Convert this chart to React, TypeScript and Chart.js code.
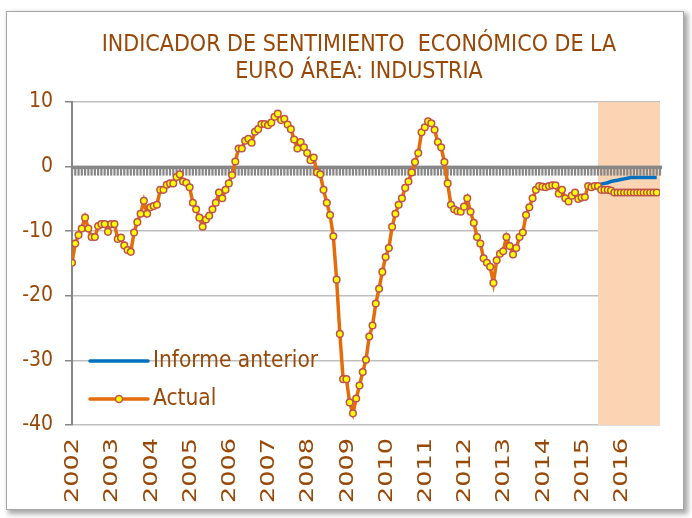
import React, { useEffect, useRef } from 'react';
import { Chart, registerables } from 'chart.js';

Chart.register(...registerables);

// ---- data ----
const titleLines = ['INDICADOR DE SENTIMIENTO  ECONÓMICO DE LA', 'EURO ÁREA: INDUSTRIA'];
const years = ['2002', '2003', '2004', '2005', '2006', '2007', '2008', '2009', '2010', '2011', '2012', '2013', '2014', '2015', '2016'];

// Monthly values, Jan 2002 .. Dec 2016
const actual = [
  // 2002
  -14.9, -11.9, -10.6, -9.6, -7.9, -9.6, -10.9, -10.9, -9.2, -8.9, -8.9, -10.1,
  // 2003
  -8.9, -8.9, -11.2, -11.0, -12.2, -12.9, -13.2, -10.2, -8.6, -7.3, -5.3, -7.3,
  // 2004
  -6.3, -6.1, -5.9, -3.6, -3.6, -2.8, -2.6, -2.6, -1.6, -1.2, -2.3, -2.5,
  // 2005
  -3.2, -5.6, -6.6, -7.9, -9.3, -8.2, -7.6, -6.6, -5.6, -4.0, -4.9, -3.6,
  // 2006
  -2.6, -1.3, 0.8, 2.8, 2.8, 4.0, 4.3, 3.7, 5.4, 5.8, 6.6, 6.6,
  // 2007
  6.4, 6.8, 7.7, 8.2, 7.2, 7.4, 6.5, 5.8, 4.2, 2.8, 3.8, 3.0,
  // 2008
  2.1, 1.0, 1.4, -0.9, -1.2, -3.6, -5.6, -7.5, -10.8, -17.5, -25.9, -32.9,
  // 2009
  -32.9, -36.5, -38.2, -35.9, -33.9, -31.8, -29.9, -26.3, -24.6, -21.2, -18.9, -16.3,
  // 2010
  -14.0, -12.6, -9.3, -7.3, -5.9, -4.9, -3.3, -2.3, -0.9, 0.7, 2.1, 5.3,
  // 2011
  6.1, 7.0, 6.7, 5.7, 3.8, 3.0, 0.7, -2.6, -5.9, -6.6, -6.9, -7.0,
  // 2012
  -6.2, -4.9, -7.0, -8.7, -10.9, -11.9, -14.2, -14.9, -15.5, -18.0, -14.5, -13.5,
  // 2013
  -13.1, -10.9, -12.3, -13.6, -12.6, -10.9, -10.2, -7.5, -6.3, -4.9, -3.6, -3.0,
  // 2014
  -3.1, -3.2, -3.0, -2.9, -2.9, -4.2, -3.6, -4.9, -5.4, -4.5, -4.0, -5.0,
  // 2015
  -4.8, -4.7, -3.0, -3.2, -3.0, -3.0, -3.6, -3.6, -3.6, -3.7, -4.0, -4.0,
  // 2016
  -4.0, -4.0, -4.0, -4.0, -4.0, -4.0, -4.0, -4.0, -4.0, -4.0, -4.0, -4.0,
];

// Previous report, from month index informeAnteriorStart to Dec 2016
const informeAnteriorStart = 161;
const informeAnterior = [-3.0, -2.7, -2.6, -2.5, -2.3, -2.2, -2.1, -2.0, -1.9, -1.8, -1.7, -1.7, -1.7, -1.7, -1.7, -1.7, -1.7, -1.7, -1.7];

// Forecast period shading (month indices)
const forecastStart = 161;
const forecastEnd = 180;

const yMin = -40;
const yMax = 10;
const yStep = 10;

const BROWN = '#984807';
const FONT = "'DejaVu Sans Condensed', 'DejaVu Sans', sans-serif";

export default function App() {
  const ref = useRef<HTMLCanvasElement>(null);

  useEffect(() => {
    const canvas = ref.current;
    if (!canvas) return;

    const actualPts = actual.map((y, i) => ({ x: i, y }));
    const prevPts = informeAnterior.map((y, k) => ({ x: informeAnteriorStart + k, y }));
    const shadePts = [
      { x: forecastStart, y: yMax },
      { x: forecastEnd, y: yMax },
    ];

    const zeroAxis = {
      id: 'zeroAxis',
      beforeDatasetDraw(chart: any, args: any) {
        if (args.index !== 1) return;
        const { ctx, chartArea, scales } = chart;
        const y0 = scales.y.getPixelForValue(0);
        ctx.save();
        ctx.fillStyle = '#878787';
        ctx.fillRect(chartArea.left, y0 - 1, chartArea.right - chartArea.left + 2, 3.5);
        for (let i = 0; i <= forecastEnd; i++) {
          const x = scales.x.getPixelForValue(i);
          ctx.fillRect(x - 1.1, y0, 2.2, 9);
        }
        ctx.restore();
      },
    };

    const titleText = {
      id: 'titleText',
      afterDraw(chart: any) {
        const { ctx, chartArea } = chart;
        const cx = (chartArea.left + chartArea.right) / 2 - 7;
        ctx.save();
        ctx.fillStyle = BROWN;
        ctx.font = `23px ${FONT}`;
        ctx.textAlign = 'center';
        ctx.textBaseline = 'middle';
        titleLines.forEach((line, k) => {
          ctx.fillText(line, cx, 45 + k * 27);
        });
        ctx.restore();
      },
    };

    const xLabels = {
      id: 'xLabels',
      afterDraw(chart: any) {
        const { ctx, chartArea, scales } = chart;
        const xs = scales.x;
        ctx.save();
        ctx.fillStyle = BROWN;
        ctx.font = `20px ${FONT}`;
        ctx.textAlign = 'right';
        ctx.textBaseline = 'middle';
        xs.ticks.forEach((t: any) => {
          const label = years[Math.round(t.value / 12)];
          if (!label) return;
          const x = xs.getPixelForValue(t.value);
          ctx.save();
          ctx.translate(x + 1, chartArea.bottom + 13);
          ctx.rotate(-Math.PI / 2);
          ctx.scale(1.42, 1);
          ctx.fillText(label, 0, 0);
          ctx.restore();
        });
        ctx.restore();
      },
    };

    const customLegend = {
      id: 'customLegend',
      afterDraw(chart: any) {
        const { ctx, chartArea } = chart;
        const ds = chart.data.datasets;
        const rows = [
          { d: ds[1], y: chartArea.top + 259, marker: false },
          { d: ds[0], y: chartArea.top + 297, marker: true },
        ];
        const xa = chartArea.left + 18;
        const xb = chartArea.left + 76;
        ctx.save();
        rows.forEach((r) => {
          ctx.strokeStyle = r.d.borderColor;
          ctx.lineWidth = 3.5;
          ctx.lineCap = 'round';
          ctx.beginPath();
          ctx.moveTo(xa, r.y);
          ctx.lineTo(xb, r.y);
          ctx.stroke();
          if (r.marker) {
            ctx.beginPath();
            ctx.arc((xa + xb) / 2, r.y, 3.5, 0, Math.PI * 2);
            ctx.fillStyle = r.d.pointBackgroundColor;
            ctx.fill();
            ctx.lineWidth = 1.5;
            ctx.strokeStyle = r.d.pointBorderColor;
            ctx.stroke();
          }
          ctx.fillStyle = BROWN;
          ctx.font = `22.5px ${FONT}`;
          ctx.textAlign = 'left';
          ctx.textBaseline = 'middle';
          ctx.fillText(r.d.label, xb + 5, r.y);
        });
        ctx.restore();
      },
    };

    const chart = new Chart(canvas, {
      type: 'line',
      data: {
        datasets: [
          {
            label: 'Actual',
            data: actualPts,
            borderColor: '#E46C0A',
            borderWidth: 3.5,
            pointRadius: 3.3,
            pointBackgroundColor: '#FFFF00',
            pointBorderColor: '#C0504D',
            pointBorderWidth: 1.5,
            tension: 0,
            fill: false,
          },
          {
            label: 'Informe anterior',
            data: prevPts,
            borderColor: '#0070C0',
            borderWidth: 3.5,
            pointRadius: 0,
            tension: 0,
            fill: false,
          },
          {
            label: 'Previsión',
            data: shadePts,
            borderWidth: 0,
            borderColor: 'rgba(0,0,0,0)',
            backgroundColor: '#FBD4B4',
            pointRadius: 0,
            fill: 'start',
          },
        ],
      },
      options: {
        responsive: false,
        animation: false,
        devicePixelRatio: 1,
        layout: { padding: { left: 10, right: 32, top: 102, bottom: 10 } },
        plugins: {
          legend: { display: false },
          tooltip: { enabled: false },
          title: { display: false },
        },
        scales: {
          x: {
            type: 'linear',
            min: 0,
            max: forecastEnd,
            grid: { display: false, drawTicks: false },
            border: { display: false },
            afterFit: (s: any) => {
              s.height = 83;
            },
            afterBuildTicks: (s: any) => {
              s.ticks = years.map((_, k) => ({ value: k * 12 }));
            },
            ticks: {
              display: false,
              autoSkip: false,
            },
          },
          y: {
            min: yMin,
            max: yMax,
            afterFit: (s: any) => {
              s.width = 62;
            },
            grid: {
              color: (c: any) => (c.tick && c.tick.value === 0 ? 'rgba(0,0,0,0)' : '#BFBFBF'),
              lineWidth: 1.5,
              tickLength: 7,
              tickColor: '#878787',
            },
            border: { display: true, color: '#878787', width: 2 },
            ticks: {
              stepSize: yStep,
              padding: 12,
              color: BROWN,
              font: { family: FONT, size: 21 },
            },
          },
        },
      },
      plugins: [zeroAxis, titleText, xLabels, customLegend],
    });

    return () => chart.destroy();
  }, []);

  return (
    <div>
      <div
        style={{
          position: 'fixed',
          left: 6,
          top: 11,
          width: 678,
          height: 499,
          boxSizing: 'border-box',
          border: '1px solid #A6A6A6',
          background: '#fff',
          boxShadow: '3px 3px 5px 1px rgba(0,0,0,0.35)',
        }}
      />
      <canvas ref={ref} width={692} height={518} style={{ position: 'fixed', left: 0, top: 0 }} />
    </div>
  );
}
